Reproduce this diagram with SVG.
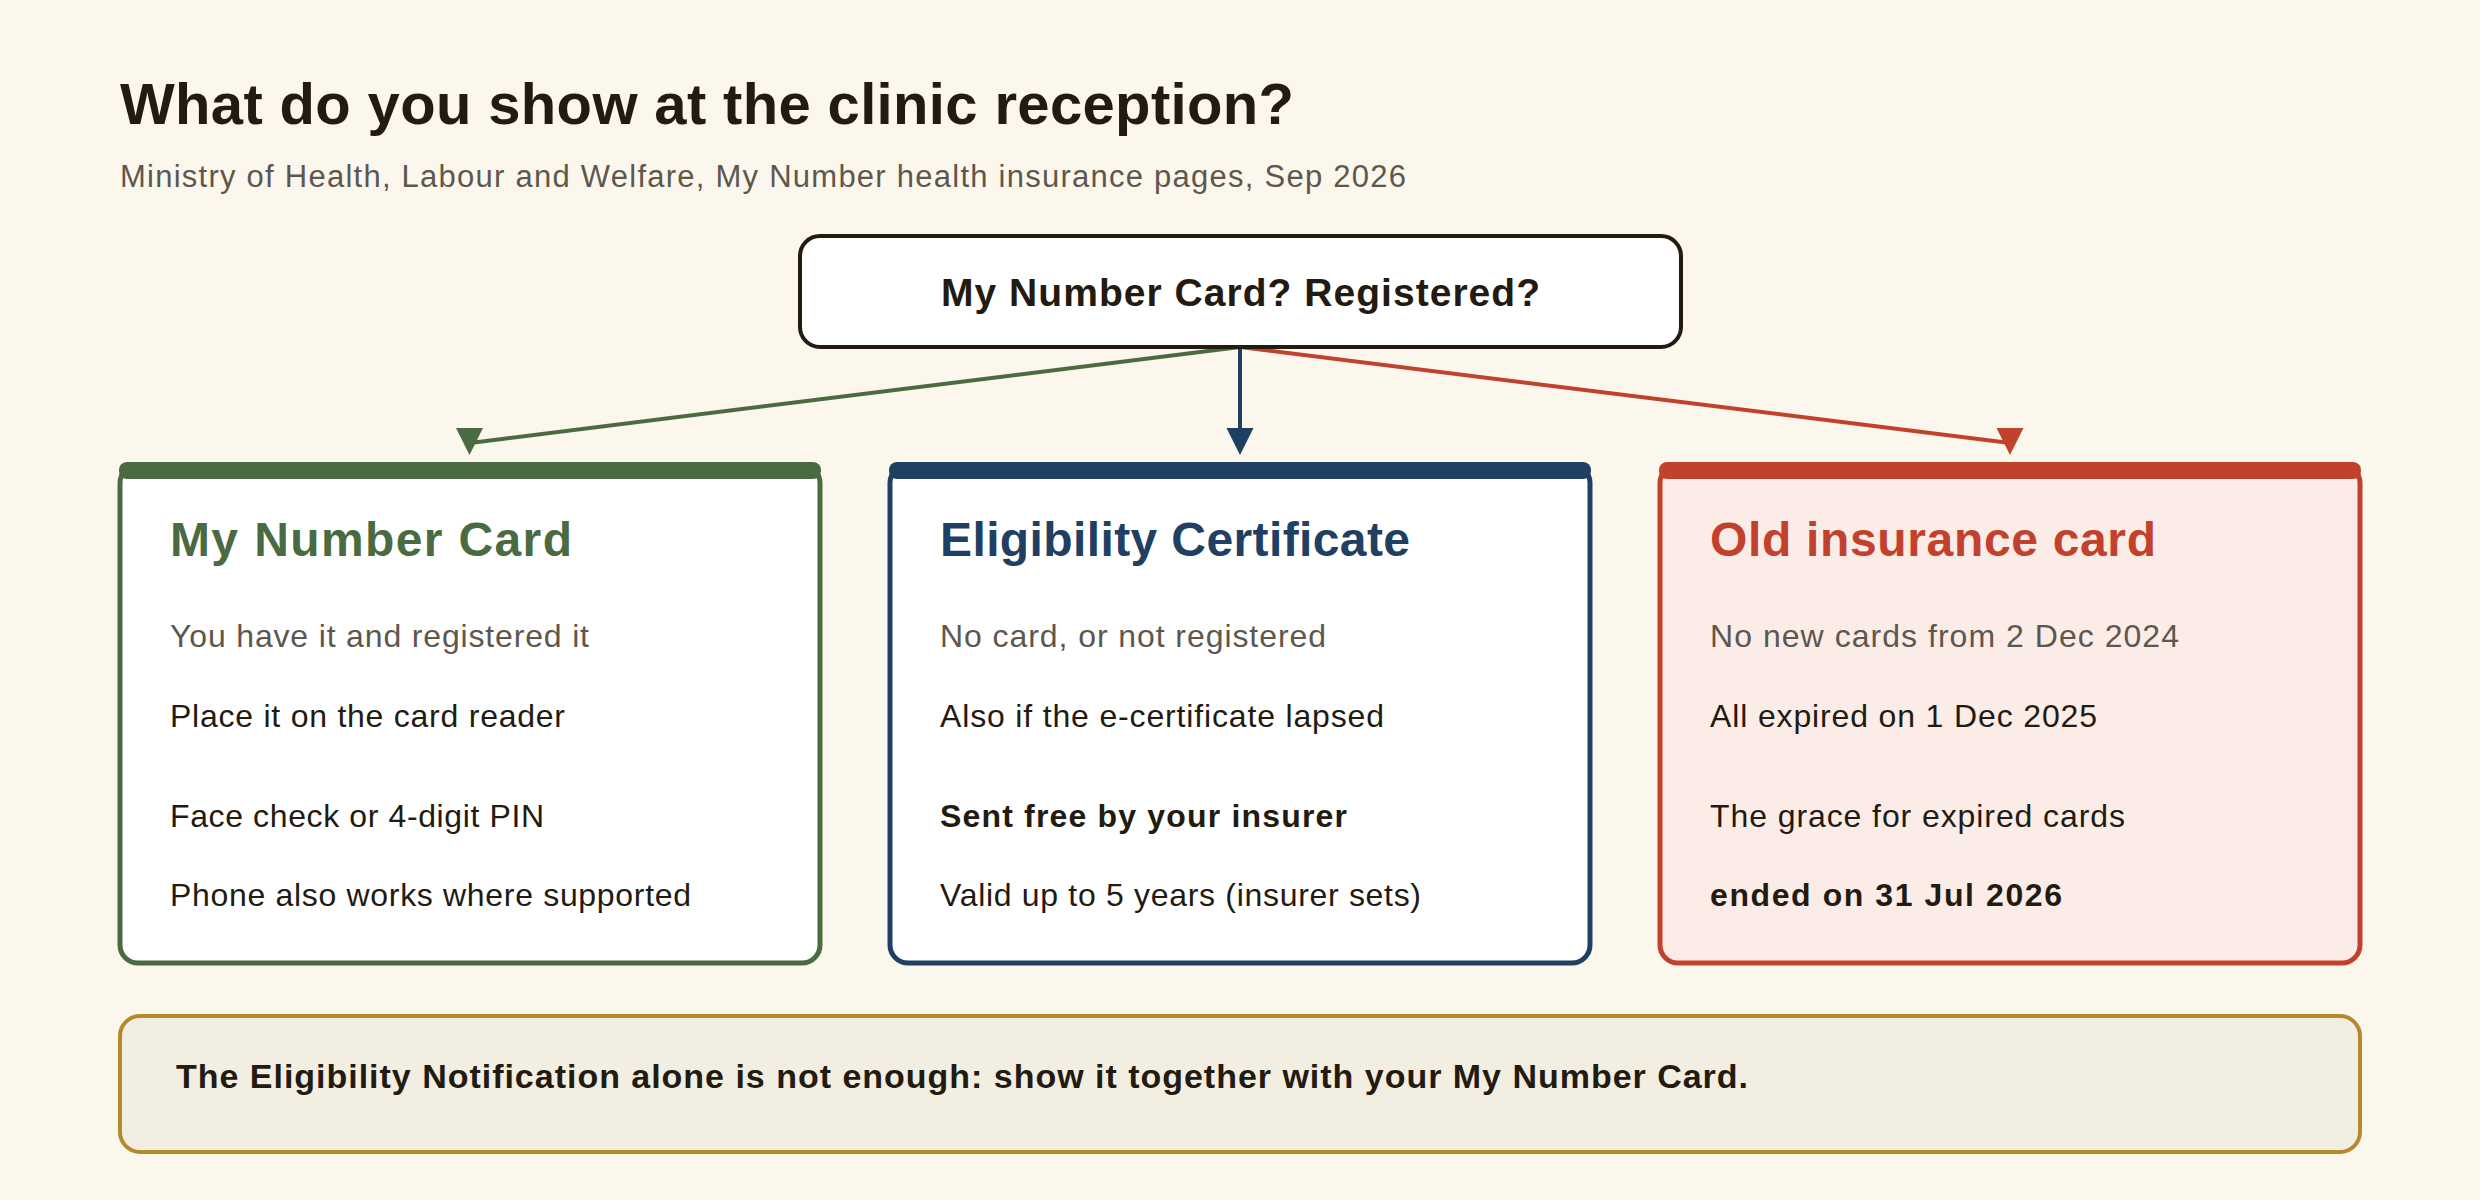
<svg xmlns="http://www.w3.org/2000/svg" width="2480" height="1200" viewBox="0 0 2480 1200">
<style>
text{font-family:"Liberation Sans",Arial,sans-serif}
.title{font-size:58px;font-weight:bold;fill:#231a10}
.sub{font-size:31px;fill:#5e574d}
.q{font-size:39px;font-weight:bold;fill:#231a10}
.ct{font-size:48px;font-weight:bold}
.muted{font-size:32px;fill:#5e574d}
.body{font-size:32px;fill:#231a10}
.bold{font-size:32px;font-weight:bold;fill:#231a10}
.note{font-size:34px;font-weight:bold;fill:#231a10}
.conn{stroke-width:4;fill:none}
</style>
<rect x="0" y="0" width="2480" height="1200" fill="#fbf7ec"/>
<text class="title" x="120" y="124" textLength="1174">What do you show at the clinic reception?</text>
<text class="sub" x="120" y="187" textLength="1286">Ministry of Health, Labour and Welfare, My Number health insurance pages, Sep 2026</text>

<g id="connectors">
<line class="conn" x1="1240" y1="347" x2="470" y2="443" stroke="#4a6b42"/>
<polygon points="456,428 483,428 469.5,455" fill="#4a6b42"/>
<line class="conn" x1="1240" y1="347" x2="1240" y2="430" stroke="#1f4063"/>
<polygon points="1226.5,428 1253.5,428 1240,455" fill="#1f4063"/>
<line class="conn" x1="1240" y1="347" x2="2010" y2="443" stroke="#c2412d"/>
<polygon points="1996.5,428 2023.5,428 2010,455" fill="#c2412d"/>
</g>

<g id="question">
<rect x="800" y="236" width="881" height="111" rx="20" fill="#ffffff" stroke="#231a10" stroke-width="4"/>
<text class="q" x="941" y="306" textLength="599">My Number Card? Registered?</text>
</g>

<g id="card-mynumber">
<rect x="120" y="465" width="700" height="498" rx="18" fill="#ffffff" stroke="#4a6b42" stroke-width="5"/>
<rect x="119" y="462" width="702" height="17" rx="8" fill="#4a6b42"/>
<text class="ct" x="170" y="556" fill="#4a6b42" textLength="402">My Number Card</text>
<text class="muted" x="170" y="647" textLength="419">You have it and registered it</text>
<text class="body" x="170" y="727" textLength="395">Place it on the card reader</text>
<text class="body" x="170" y="827" textLength="374">Face check or 4-digit PIN</text>
<text class="body" x="170" y="906" textLength="521">Phone also works where supported</text>
</g>

<g id="card-certificate">
<rect x="890" y="465" width="700" height="498" rx="18" fill="#ffffff" stroke="#1f4063" stroke-width="5"/>
<rect x="889" y="462" width="702" height="17" rx="8" fill="#1f4063"/>
<text class="ct" x="940" y="556" fill="#1f4063" textLength="470">Eligibility Certificate</text>
<text class="muted" x="940" y="647" textLength="386">No card, or not registered</text>
<text class="body" x="940" y="727" textLength="444">Also if the e-certificate lapsed</text>
<text class="bold" x="940" y="827" textLength="407">Sent free by your insurer</text>
<text class="body" x="940" y="906" textLength="481">Valid up to 5 years (insurer sets)</text>
</g>

<g id="card-old">
<rect x="1660" y="465" width="700" height="498" rx="18" fill="#fbece8" stroke="#c2412d" stroke-width="5"/>
<rect x="1659" y="462" width="702" height="17" rx="8" fill="#c2412d"/>
<text class="ct" x="1710" y="556" fill="#c2412d" textLength="446">Old insurance card</text>
<text class="muted" x="1710" y="647" textLength="469">No new cards from 2 Dec 2024</text>
<text class="body" x="1710" y="727" textLength="387">All expired on 1 Dec 2025</text>
<text class="body" x="1710" y="827" textLength="415">The grace for expired cards</text>
<text class="bold" x="1710" y="906" textLength="352">ended on 31 Jul 2026</text>
</g>

<g id="note">
<rect x="120" y="1016" width="2240" height="136" rx="20" fill="#f3eee2" stroke="#b58a2e" stroke-width="4"/>
<text class="note" x="176" y="1088" textLength="1572">The Eligibility Notification alone is not enough: show it together with your My Number Card.</text>
</g>
</svg>
